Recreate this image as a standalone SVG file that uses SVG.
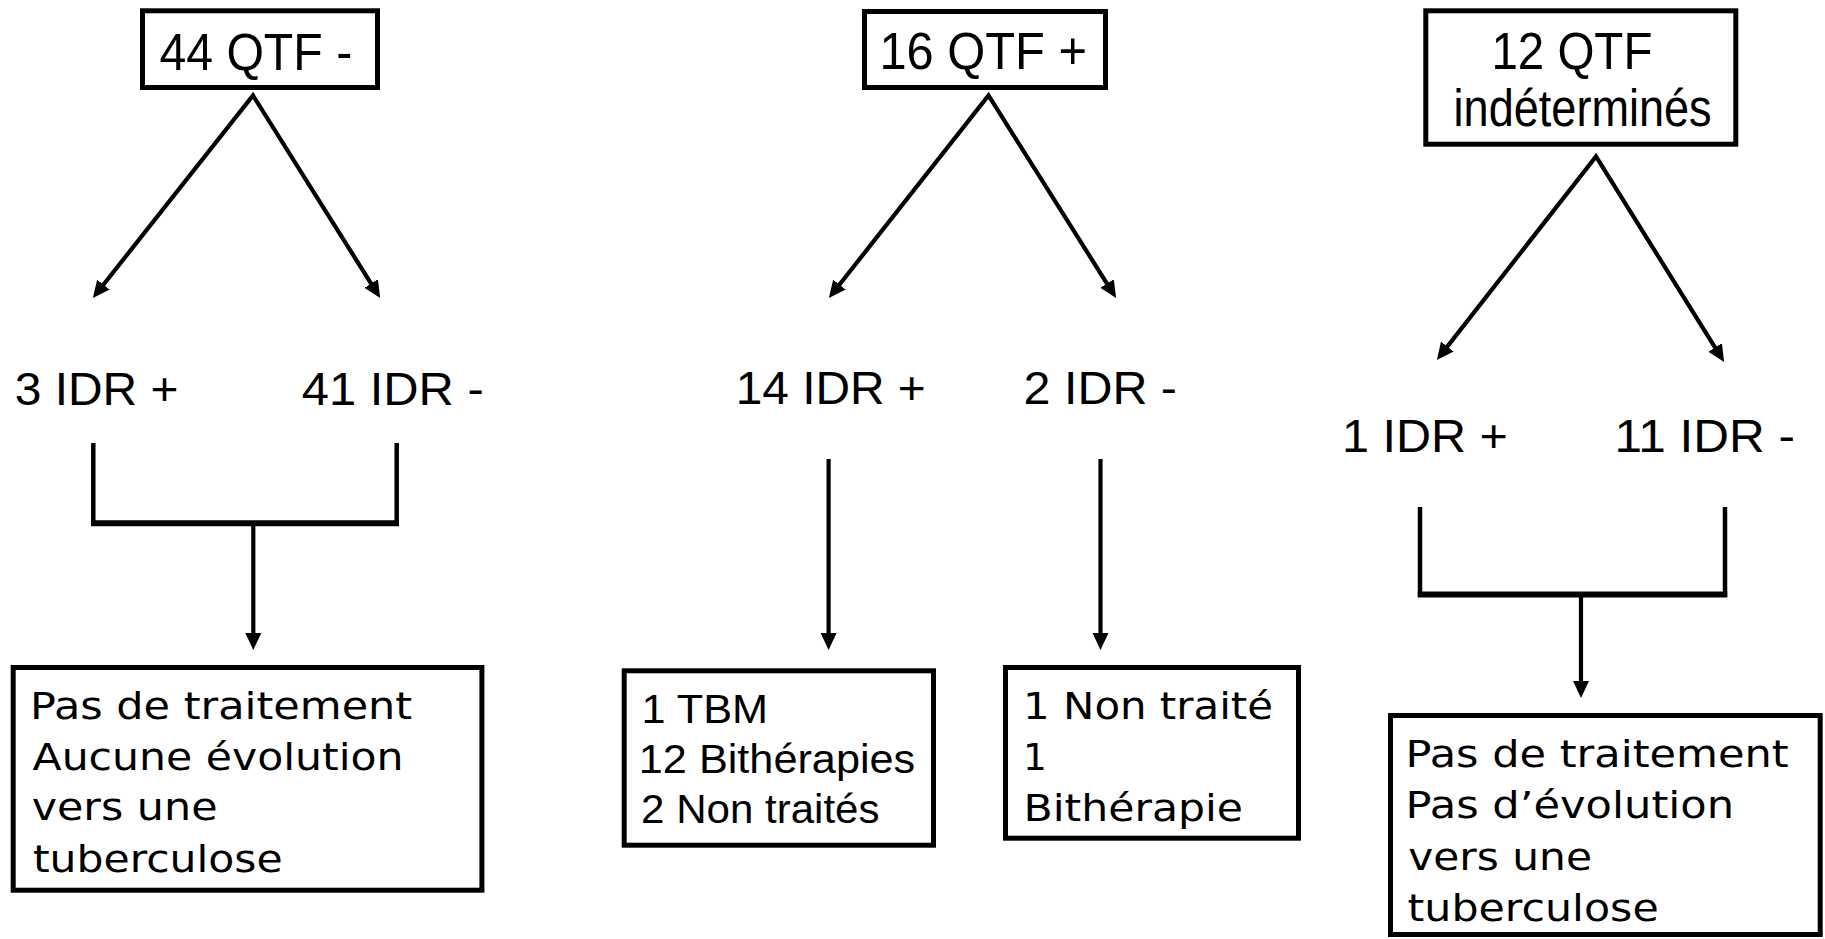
<svg xmlns="http://www.w3.org/2000/svg" width="1825" height="939" viewBox="0 0 1825 939">
<style>
.box{fill:#fff;stroke:#000;stroke-width:5}
.ar{font-family:"Liberation Sans",Arial,sans-serif;fill:#000}
.dv{font-family:"DejaVu Sans",Verdana,sans-serif;fill:#000;font-size:37.5px}
.t{font-size:51px}
.l{font-size:46px}
.b{font-size:41px}
.c{fill:none;stroke:#000;stroke-width:4.2;stroke-linejoin:miter}
.s{fill:none;stroke:#000;stroke-width:4.2}
.bv{fill:none;stroke:#000;stroke-width:4.5}
.bh{fill:none;stroke:#000;stroke-width:6}
</style>
<defs>
<marker id="ah" markerUnits="userSpaceOnUse" markerWidth="19" markerHeight="17" refX="2" refY="8" orient="auto-start-reverse" viewBox="0 0 19 16">
<path d="M0,0 L17,8 L0,16 z" fill="#000"/>
</marker>
</defs>
<rect width="1825" height="939" fill="#fff"/>

<g id="connectors">
<path class="c" d="M102.2,286.2 L253,95.5 L372.2,285.3" marker-start="url(#ah)" marker-end="url(#ah)"/>
<path class="c" d="M838.2,286.2 L988.5,95.5 L1108.1,285.3" marker-start="url(#ah)" marker-end="url(#ah)"/>
<path class="c" d="M1446.1,348.1 L1596,156.5 L1716.2,349.3" marker-start="url(#ah)" marker-end="url(#ah)"/>
<line class="bv" x1="93.3" y1="443" x2="93.3" y2="526"/>
<line class="bv" x1="396.7" y1="443" x2="396.7" y2="526"/>
<line class="bh" x1="91" y1="523.3" x2="399" y2="523.3"/>
<line class="s" x1="253.3" y1="526" x2="253.3" y2="635" marker-end="url(#ah)"/>
<line class="s" x1="828.6" y1="459" x2="828.6" y2="635" marker-end="url(#ah)"/>
<line class="s" x1="1100.5" y1="459" x2="1100.5" y2="635" marker-end="url(#ah)"/>
<line class="bv" x1="1420" y1="507" x2="1420" y2="597"/>
<line class="bv" x1="1725" y1="507" x2="1725" y2="597"/>
<line class="bh" x1="1417.8" y1="594.5" x2="1727.2" y2="594.5"/>
<line class="s" x1="1581" y1="597" x2="1581" y2="683" marker-end="url(#ah)"/>
</g>

<g id="qtf-neg">
<rect class="box" x="142.5" y="10.8" width="235" height="76.7"/>
<text class="ar t" x="159.4" y="70" textLength="192.8" lengthAdjust="spacingAndGlyphs">44 QTF -</text>
</g>
<g id="qtf-pos">
<rect class="box" x="864.5" y="11.5" width="241" height="76"/>
<text class="ar t" x="879.4" y="69" textLength="207.6" lengthAdjust="spacingAndGlyphs">16 QTF +</text>
</g>
<g id="qtf-ind">
<rect class="box" x="1425.8" y="10.8" width="310" height="133.4"/>
<text class="ar t" x="1491.4" y="69" textLength="161" lengthAdjust="spacingAndGlyphs">12 QTF</text>
<text class="ar t" x="1453.6" y="126" textLength="258" lengthAdjust="spacingAndGlyphs">indéterminés</text>
</g>

<g id="idr-3pos"><text class="ar l" x="14.7" y="405" textLength="163.8" lengthAdjust="spacingAndGlyphs">3 IDR +</text></g>
<g id="idr-41neg"><text class="ar l" x="301.8" y="405" textLength="181.9" lengthAdjust="spacingAndGlyphs">41 IDR -</text></g>
<g id="idr-14pos"><text class="ar l" x="735.7" y="404" textLength="190.1" lengthAdjust="spacingAndGlyphs">14 IDR +</text></g>
<g id="idr-2neg"><text class="ar l" x="1023.6" y="404" textLength="153.4" lengthAdjust="spacingAndGlyphs">2 IDR -</text></g>
<g id="idr-1pos"><text class="ar l" x="1342" y="452" textLength="165.8" lengthAdjust="spacingAndGlyphs">1 IDR +</text></g>
<g id="idr-11neg"><text class="ar l" x="1614.5" y="452" textLength="180.5" lengthAdjust="spacingAndGlyphs">11 IDR -</text></g>

<g id="out-left">
<rect class="box" x="13.2" y="667.5" width="468.7" height="222.7"/>
<text class="dv" x="29.9" y="719" textLength="382.3" lengthAdjust="spacingAndGlyphs">Pas de traitement</text>
<text class="dv" x="32.5" y="770" textLength="371.1" lengthAdjust="spacingAndGlyphs">Aucune évolution</text>
<text class="dv" x="31.7" y="820" textLength="185.8" lengthAdjust="spacingAndGlyphs">vers une</text>
<text class="dv" x="32.9" y="872" textLength="249.8" lengthAdjust="spacingAndGlyphs">tuberculose</text>
</g>
<g id="out-mid1">
<rect class="box" x="624.2" y="670.8" width="309.3" height="174.4"/>
<text class="ar b" x="641.5" y="723.3" textLength="126.5" lengthAdjust="spacingAndGlyphs">1 TBM</text>
<text class="ar b" x="638.8" y="773.3" textLength="276.4" lengthAdjust="spacingAndGlyphs">12 Bithérapies</text>
<text class="ar b" x="641.1" y="823.3" textLength="238.4" lengthAdjust="spacingAndGlyphs">2 Non traités</text>
</g>
<g id="out-mid2">
<rect class="box" x="1005.5" y="667.5" width="293" height="170.7"/>
<text class="dv" x="1023.1" y="719" textLength="249.9" lengthAdjust="spacingAndGlyphs">1 Non traité</text>
<text class="dv" x="1023.1" y="770">1</text>
<text class="dv" x="1023.6" y="820.7" textLength="219.4" lengthAdjust="spacingAndGlyphs">Bithérapie</text>
</g>
<g id="out-right">
<rect class="box" x="1390.5" y="715.5" width="429.7" height="219"/>
<text class="dv" x="1405.6" y="767.3" textLength="383.1" lengthAdjust="spacingAndGlyphs">Pas de traitement</text>
<text class="dv" x="1405.6" y="818.3" textLength="328.5" lengthAdjust="spacingAndGlyphs">Pas d’évolution</text>
<text class="dv" x="1408.2" y="870" textLength="183.8" lengthAdjust="spacingAndGlyphs">vers une</text>
<text class="dv" x="1407.6" y="920.7" textLength="251.1" lengthAdjust="spacingAndGlyphs">tuberculose</text>
</g>
</svg>
